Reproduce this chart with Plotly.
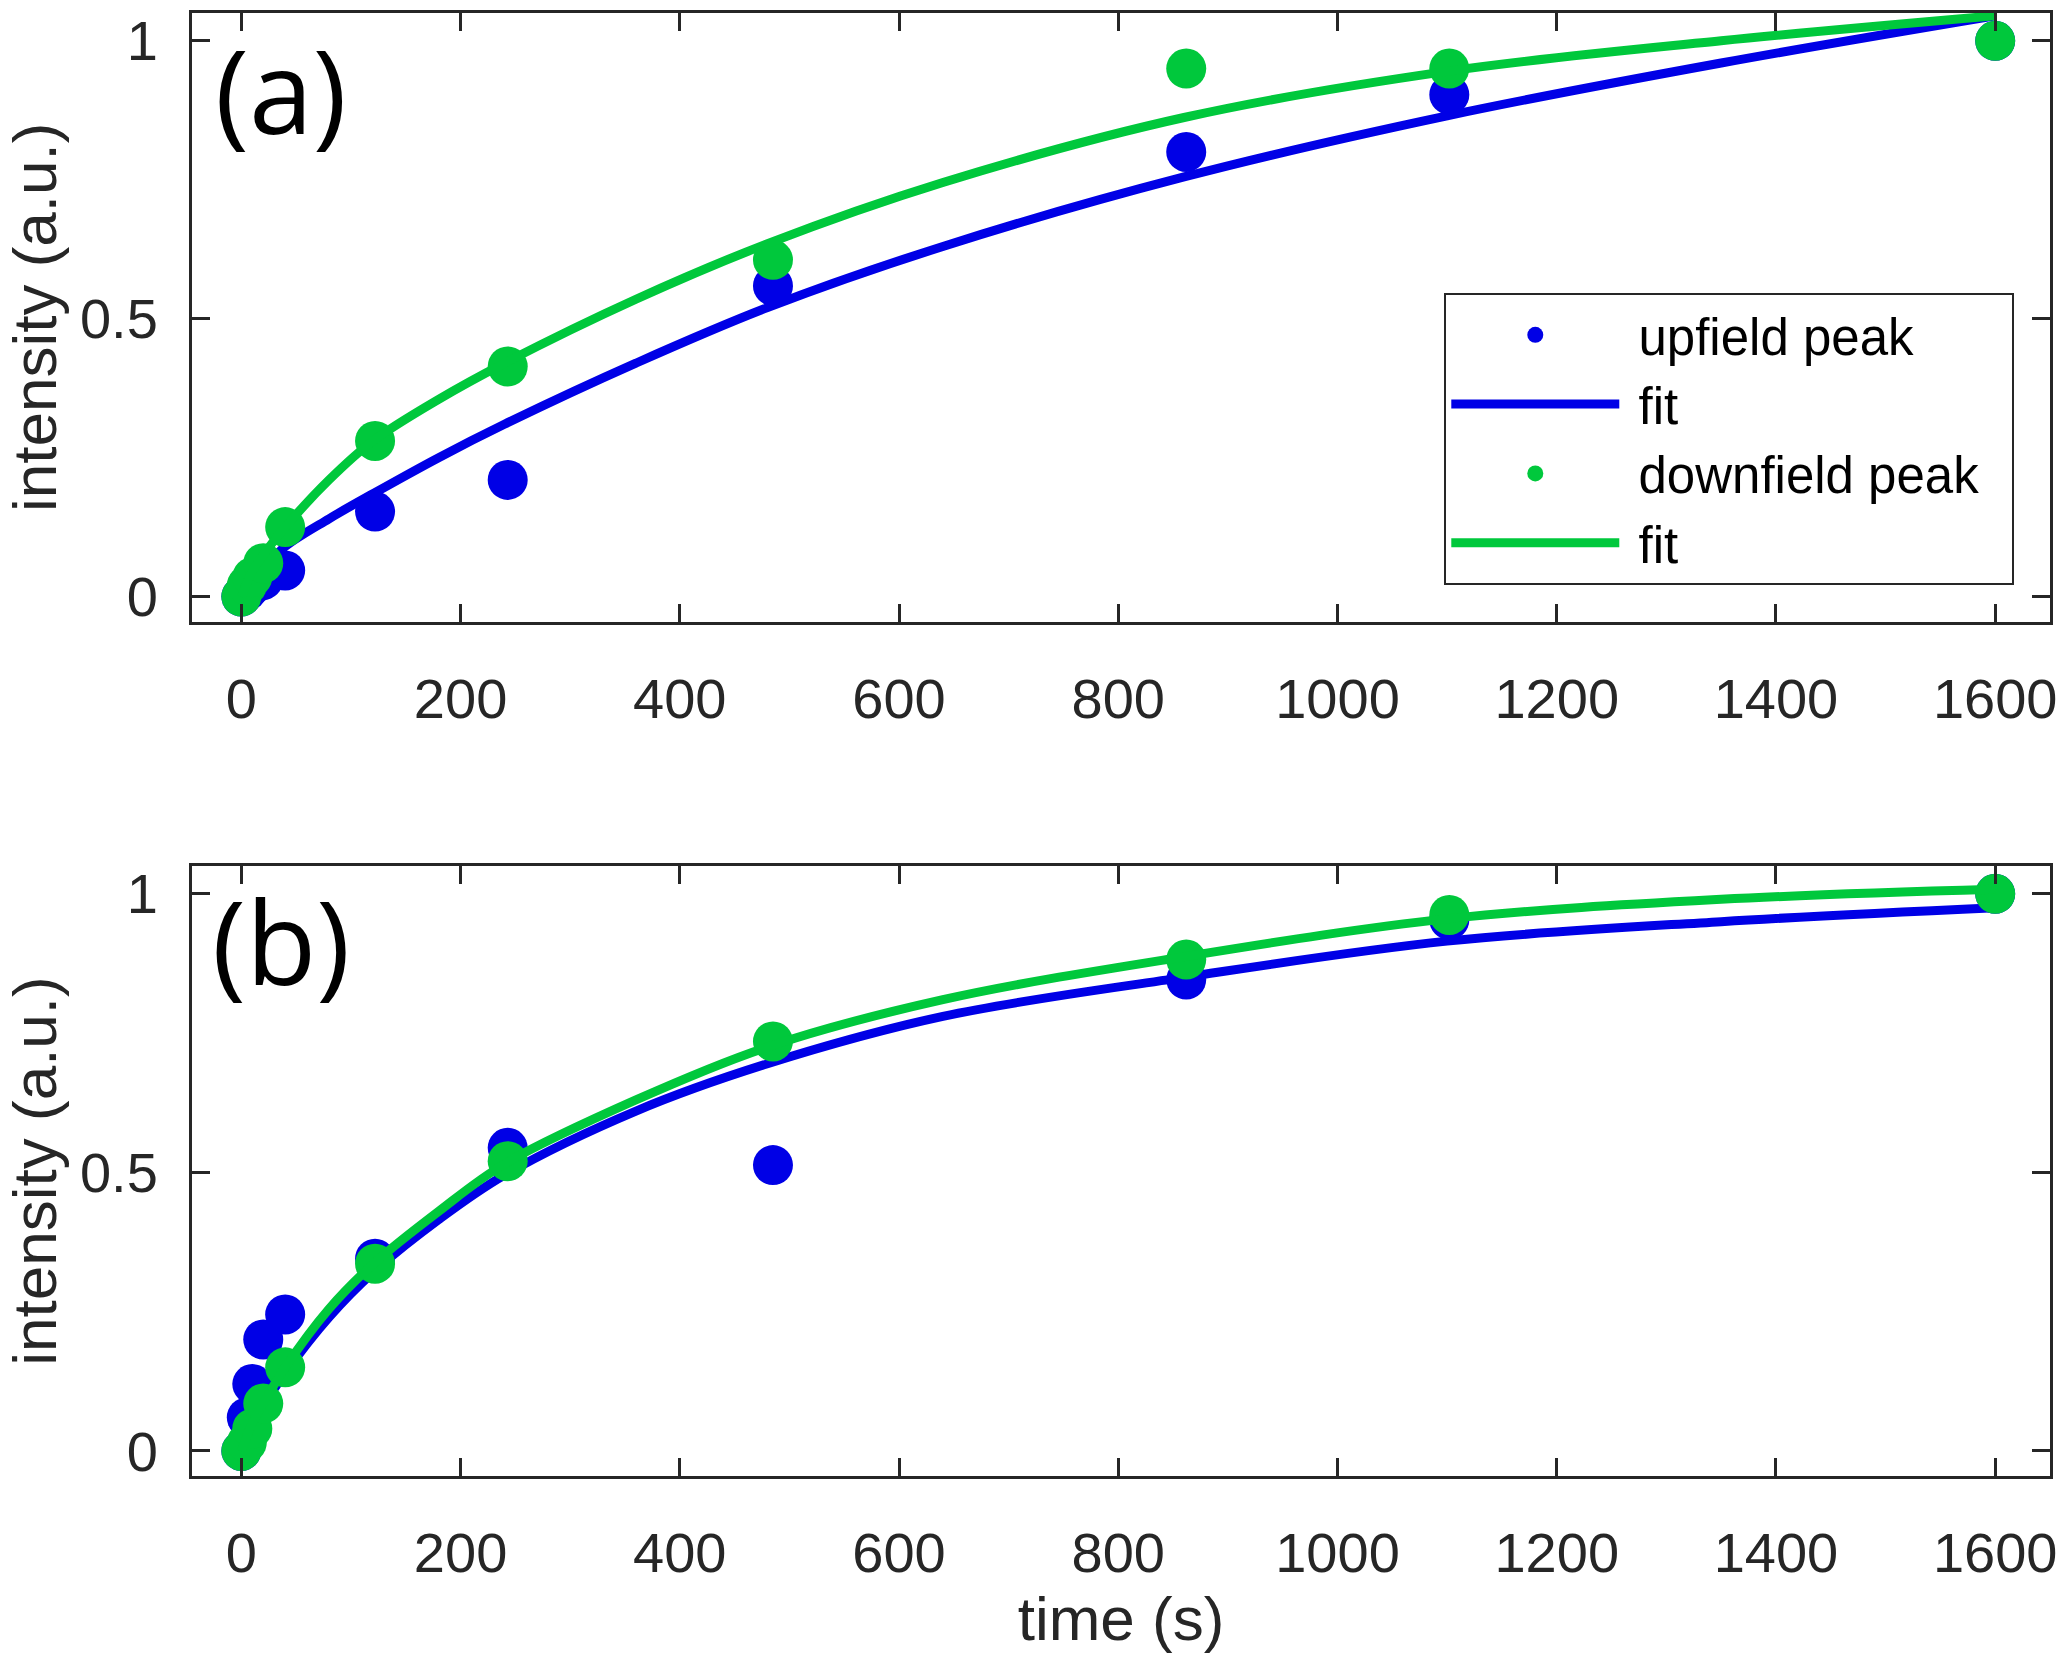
import plotly.graph_objects as go

# ---------------- data ----------------
time_s = [0, 5, 10, 20, 40, 122, 243, 485, 862, 1102, 1600]

a_upfield = [0.0, 0.01, 0.02, 0.03, 0.047, 0.153, 0.21, 0.559, 0.80, 0.903, 1.0]
a_downfield = [0.0, 0.02, 0.035, 0.06, 0.125, 0.28, 0.414, 0.606, 0.950, 0.950, 1.0]
b_upfield = [0.0, 0.06, 0.12, 0.20, 0.245, 0.345, 0.544, 0.513, 0.846, 0.953, 1.0]
b_downfield = [0.0, 0.015, 0.04, 0.085, 0.15, 0.336, 0.52, 0.735, 0.882, 0.962, 1.0]

fit_time = [0, 10, 20, 40, 80, 120, 180, 240, 360, 480, 640, 860, 1100, 1350, 1600]
a_up_fit = [0.0, 0.03, 0.05, 0.09, 0.14, 0.185, 0.25, 0.31, 0.42, 0.52, 0.63, 0.755, 0.865, 0.96, 1.045]
a_down_fit = [0.0, 0.045, 0.075, 0.125, 0.21, 0.28, 0.355, 0.42, 0.535, 0.635, 0.745, 0.862, 0.945, 1.0, 1.045]
b_up_fit = [0.0, 0.045, 0.08, 0.14, 0.24, 0.32, 0.415, 0.495, 0.61, 0.695, 0.78, 0.85, 0.915, 0.95, 0.975]
b_down_fit = [0.0, 0.05, 0.085, 0.15, 0.255, 0.335, 0.43, 0.515, 0.63, 0.725, 0.81, 0.887, 0.955, 0.99, 1.008]

x_ticks = [0, 200, 400, 600, 800, 1000, 1200, 1400, 1600]
y_ticks = [0, 0.5, 1]
y_ticklabels = ["0", "0.5", "1"]
panel_labels = ["(a)", "(b)"]
series_names = ["upfield peak", "fit", "downfield peak", "fit"]

# ---------------- styling ----------------
BLUE = "#0000E6"
GREEN = "#00C83C"
AX = "#262626"
FONT = "Liberation Sans, Arial, sans-serif"
MSIZE = 40
LW = 9
NB = "\u00a0"

fig = go.Figure()

panels = [
    ("x", "y", a_upfield, a_downfield, a_up_fit, a_down_fit, True),
    ("x2", "y2", b_upfield, b_downfield, b_up_fit, b_down_fit, False),
]
for xa, ya, up, down, upfit, downfit, show in panels:
    fig.add_trace(go.Scatter(x=time_s, y=up, mode="markers", name=NB + series_names[0] + NB,
                             marker=dict(color=BLUE, size=MSIZE, line=dict(width=0)),
                             xaxis=xa, yaxis=ya, showlegend=show))
    fig.add_trace(go.Scatter(x=fit_time, y=upfit, mode="lines", name=NB + series_names[1],
                             line=dict(color=BLUE, width=LW, shape="spline"),
                             xaxis=xa, yaxis=ya, showlegend=show))
    fig.add_trace(go.Scatter(x=time_s, y=down, mode="markers", name=NB + series_names[2] + NB + NB,
                             marker=dict(color=GREEN, size=MSIZE, line=dict(width=0)),
                             xaxis=xa, yaxis=ya, showlegend=show))
    fig.add_trace(go.Scatter(x=fit_time, y=downfit, mode="lines", name=NB + series_names[3],
                             line=dict(color=GREEN, width=LW, shape="spline"),
                             xaxis=xa, yaxis=ya, showlegend=show))

common_x = dict(range=[-45, 1650], tickvals=x_ticks, ticks="inside", ticklen=18, tickwidth=3,
                tickcolor=AX, showline=True, linecolor=AX, linewidth=3, mirror="ticks",
                showgrid=False, zeroline=False, ticklabelstandoff=26,
                tickfont=dict(family=FONT, size=56, color=AX))
common_y = dict(range=[-0.045, 1.05], tickvals=y_ticks, ticktext=y_ticklabels, ticks="inside",
                ticklen=18, tickwidth=3, tickcolor=AX, showline=True, linecolor=AX, linewidth=3,
                mirror="ticks", showgrid=False, zeroline=False, ticklabelstandoff=20,
                tickfont=dict(family=FONT, size=56, color=AX),
                title=dict(text="intensity (a.u.)", font=dict(family=FONT, size=62, color=AX),
                           standoff=16))

fig.update_layout(
    width=2066, height=1666,
    margin=dict(l=192, r=13, t=9, b=190),
    paper_bgcolor="white", plot_bgcolor="white",
    xaxis=dict(common_x, domain=[0, 1], anchor="y"),
    yaxis=dict(common_y, domain=[0.584, 1.0], anchor="x"),
    xaxis2=dict(common_x, domain=[0, 1], anchor="y2",
                title=dict(text="time (s)", font=dict(family=FONT, size=62, color=AX), standoff=14)),
    yaxis2=dict(common_y, domain=[0.0, 0.417], anchor="x2"),
    legend=dict(x=0.674, y=0.8085, xanchor="left", yanchor="top", bgcolor="white",
                bordercolor=AX, borderwidth=2, font=dict(family=FONT, size=51, color="black"),
                itemwidth=168, traceorder="normal", tracegroupgap=0),
    showlegend=True,
)

for label, xr, yr, yy in [(panel_labels[0], "x domain", "y domain", 0.874),
                          (panel_labels[1], "x2 domain", "y2 domain", 0.877)]:
    fig.add_annotation(text=label, xref=xr, yref=yr, x=0.048, y=yy, showarrow=False,
                       xanchor="center", yanchor="middle",
                       font=dict(family="Open Sans, sans-serif", size=115, color="black"))

fig.write_html("out.html")
